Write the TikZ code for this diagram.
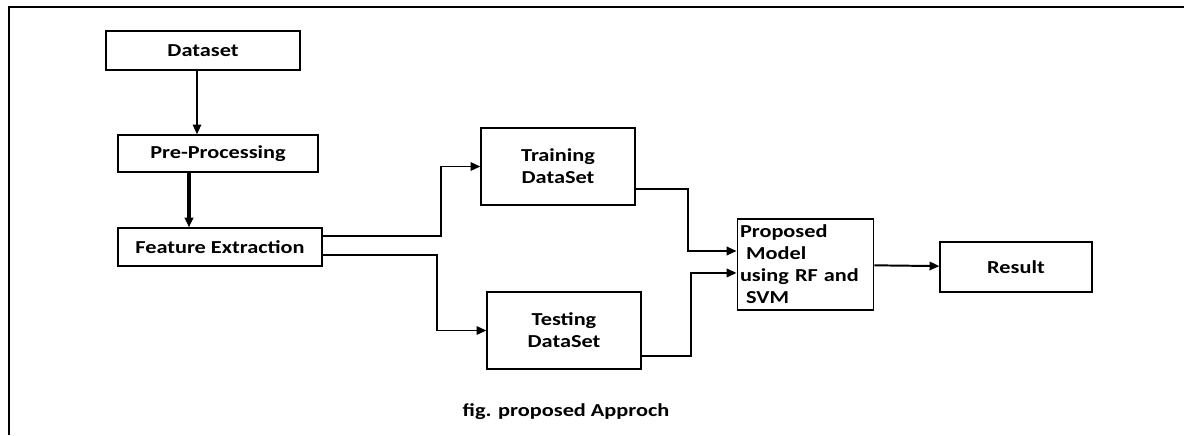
\documentclass[tikz,border=0pt]{standalone}
\usepackage{fontspec}
\setmainfont{Carlito}[FakeStretch=1.22]
\usetikzlibrary{arrows.meta}

\begin{document}
\begin{tikzpicture}[x=0.025cm, y=-0.025cm, >={Triangle[length=7pt,width=6pt]},
  every node/.style={font=\fontsize{13}{15.6}\selectfont\bfseries},
  box/.style={draw, line width=0.9pt, inner sep=0pt},
  conn/.style={->, line width=1.4pt}]
\useasboundingbox (0,0) rectangle (1184,435);
\draw[line width=1.6pt] (9,435) -- (9,7) -- (1184,7);
\node[box, minimum width=194*0.025cm, minimum height=39*0.025cm] (data) at (203,50.5) {Dataset\hspace{21pt}};
\node[box, minimum width=200*0.025cm, minimum height=37*0.025cm] (pre) at (218,153.5) {Pre-Processing\hspace{13pt}};
\node[box, minimum width=204*0.025cm, minimum height=38*0.025cm] (fe) at (220,247) {Feature Extraction};
\node[box, align=center, minimum width=154*0.025cm, minimum height=77*0.025cm] (train) at (558,166.5) {Training\\DataSet};
\node[box, align=center, minimum width=154*0.025cm, minimum height=77*0.025cm] (test) at (564,330.5) {Testing\\DataSet};
\node[box, align=left, text width=131*0.025cm, inner xsep=2pt, minimum height=91*0.025cm] (model) at (805.5,264.5) {Proposed\\\ Model\\using RF and\\\ SVM};
\node[box, minimum width=152*0.025cm, minimum height=50*0.025cm] (res) at (1016,267) {Result};
\node (cap) at (566,412) {fig. proposed Approch};
\draw[->, line width=1.2pt] (data.south -| 197,0) -- (pre.north -| 197,0);
\draw[->, line width=2.4pt] (pre.south -| 189,0) -- (fe.north -| 189,0);
\draw[conn] ([yshift=7.8pt]fe.east) -- ++(118,0) |- (train.west);
\draw[conn] ([yshift=-5.7pt]fe.east) -- ++(114,0) |- (test.west);
\draw[conn] ([yshift=-16pt]train.east) -- ++(52,0) |- ([yshift=9.6pt]model.west);
\draw[conn] ([yshift=-18pt]test.east) -- ++(49,0) |- ([yshift=-6pt]model.west);
\draw[conn] (model) -- (res);
\end{tikzpicture}
\end{document}
